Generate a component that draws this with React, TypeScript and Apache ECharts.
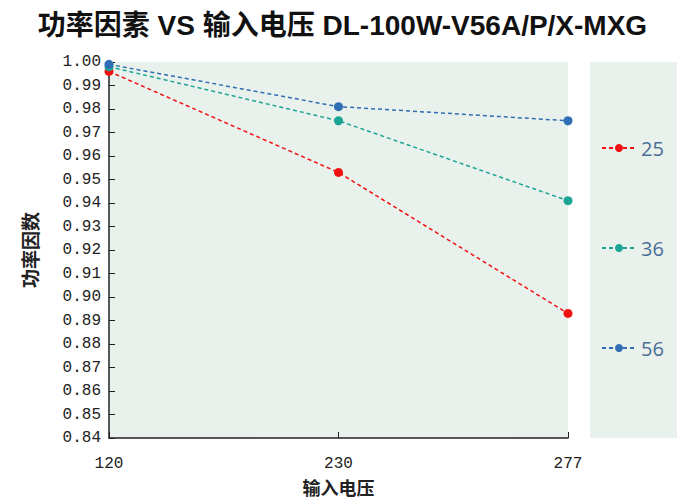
import React, { useEffect, useRef } from "react";
import * as echarts from "echarts";

const categories = ["120", "230", "277"];
const seriesNames = ["25", "36", "56"];
const values25 = [0.996, 0.953, 0.893];
const values36 = [0.998, 0.975, 0.941];
const values56 = [0.999, 0.981, 0.975];
const colors = ["#f01212", "#1ba595", "#2f6db4"];

export default function App() {
  const ref = useRef<HTMLDivElement>(null);
  useEffect(() => {
    if (!ref.current) return;
    const chart = echarts.init(ref.current, null, { renderer: "svg" });
    const data = [values25, values36, values56];
    chart.setOption({
      animation: false,
      backgroundColor: "#ffffff",
      title: {
        text: "功率因素 VS 输入电压 DL-100W-V56A/P/X-MXG",
        left: "center",
        top: 6,
        textStyle: {
          fontFamily: "'Liberation Sans', 'Noto Sans CJK SC', sans-serif",
          fontWeight: "bold",
          fontSize: 28,
          color: "#111",
        },
      },
      graphic: [
        {
          type: "rect",
          shape: { x: 590, y: 62, width: 87, height: 376 },
          style: { fill: "#e9f1ec" },
          z: -1,
        },
      ],
      legend: {
        orient: "vertical",
        left: 596,
        top: 133,
        itemGap: 80,
        itemWidth: 34,
        itemHeight: 10,
        data: seriesNames,
        textStyle: {
          fontFamily: "'Open Sans', 'Noto Sans', sans-serif",
          fontSize: 20,
          color: "#4a6d96",
        },
      },
      grid: {
        left: 109,
        right: 117,
        top: 62,
        bottom: 60,
        show: true,
        backgroundColor: "#e9f1ec",
        borderWidth: 0,
        outerBoundsMode: "none",
      },
      xAxis: {
        type: "category",
        data: categories,
        boundaryGap: false,
        name: "输入电压",
        nameLocation: "middle",
        nameGap: 39,
        nameMoveOverlap: false,
        nameTextStyle: {
          fontFamily: "'Noto Sans CJK SC', sans-serif",
          fontWeight: "bold",
          fontSize: 18,
          lineHeight: 19,
          color: "#222",
        },
        axisLine: { lineStyle: { color: "#222", width: 1.5 } },
        axisTick: { inside: true, length: 6, lineStyle: { color: "#222" } },
        axisLabel: {
          margin: 18,
          fontFamily: "'Liberation Mono', monospace",
          fontSize: 16,
          lineHeight: 16,
          color: "#222",
        },
        splitLine: { show: false },
      },
      yAxis: {
        type: "value",
        min: 0.84,
        max: 1.0,
        interval: 0.01,
        name: "功率因数",
        nameLocation: "middle",
        nameGap: 70,
        nameTextStyle: {
          fontFamily: "'Noto Sans CJK SC', sans-serif",
          fontWeight: "bold",
          fontSize: 19,
          color: "#222",
        },
        axisLine: { show: true, lineStyle: { color: "#222", width: 1.5 } },
        axisTick: { show: true, inside: true, length: 6, lineStyle: { color: "#222" } },
        axisLabel: {
          margin: 8,
          fontFamily: "'Liberation Mono', monospace",
          fontSize: 16,
          color: "#222",
          formatter: (v: number) => v.toFixed(2),
        },
        splitLine: { show: false },
      },
      series: seriesNames.map((n, i) => ({
        name: n,
        type: "line",
        data: data[i],
        symbol: "circle",
        symbolSize: 9,
        itemStyle: { color: colors[i] },
        lineStyle: { color: colors[i], width: 1.5, type: [4, 3] },
      })),
    });
    return () => chart.dispose();
  }, []);
  return (
    <div
      ref={ref}
      style={{ position: "fixed", left: 0, top: 0, width: 685, height: 498 }}
    />
  );
}
